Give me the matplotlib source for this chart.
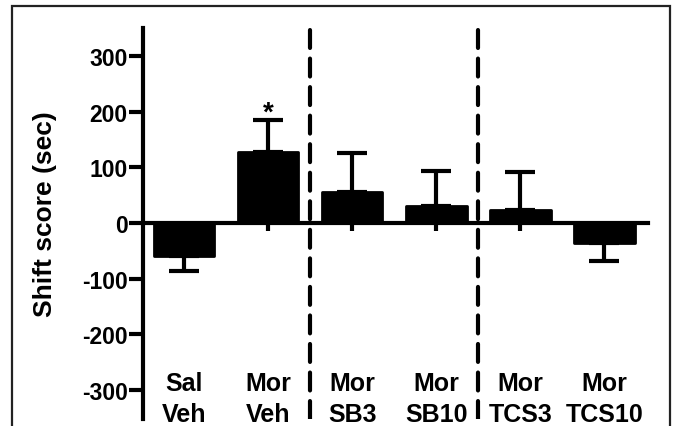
import numpy as np
from matplotlib import pyplot as plt
from matplotlib.patches import Rectangle

# group labels and values
line1 = ["Sal", "Mor", "Mor", "Mor", "Mor", "Mor"]
line2 = ["Veh", "Veh", "SB3", "SB10", "TCS3", "TCS10"]
means = [-59, 128, 56, 30, 24, -36]
sem = [28, 56, 70, 64, 68, 32]
yticks = [-300, -200, -100, 0, 100, 200, 300]
dividers = [1.5, 3.5]

plt.rcParams['font.family'] = ['Liberation Sans', 'DejaVu Sans']
plt.rcParams['font.weight'] = 'bold'

fig = plt.figure(figsize=(6.73, 4.27), dpi=100)
ax = fig.add_axes([143 / 673, 1 - 420 / 427, (648 - 143) / 673, (420 - 29) / 427])

x = np.arange(len(means))
ax.bar(x, means, width=0.72, color='black', edgecolor='black', linewidth=2,
       joinstyle='round', zorder=2)

# one-sided error bars (away from zero)
lower = [s if m < 0 else 0 for m, s in zip(means, sem)]
upper = [s if m >= 0 else 0 for m, s in zip(means, sem)]
ax.errorbar(x, means, yerr=[lower, upper], fmt='none', ecolor='black',
            elinewidth=3, capsize=11, capthick=3, zorder=3)

# significance star
ax.text(x[1], means[1] + sem[1] + 14, '*', ha='center', va='center',
        fontsize=20, fontweight='bold')

for d in dividers:
    ax.axvline(d, color='black', linewidth=3, dashes=(4.3, 2.55),
               dash_capstyle='round', zorder=1)

ax.set_xlim(-0.49, 5.52)
ax.set_ylim(-352, 350)
ax.set_yticks(yticks)
ax.set_yticklabels([str(t) for t in yticks], fontsize=16.5, fontweight='bold')
ax.set_xticks(x)
ax.set_xticklabels([])
ax.tick_params(axis='y', length=10, width=3, pad=1)
ax.tick_params(axis='x', length=6, width=3, direction='out')

ax.spines['top'].set_visible(False)
ax.spines['right'].set_visible(False)
ax.spines['bottom'].set_position(('data', 0))
ax.spines['bottom'].set_linewidth(3)
ax.spines['left'].set_linewidth(3)
ax.spines['bottom'].set_zorder(1)

for xi, a, b in zip(x, line1, line2):
    ax.text(xi, -300, a, ha='center', va='baseline', fontsize=18,
            fontweight='bold', clip_on=False)
    ax.text(xi, -356, b, ha='center', va='baseline', fontsize=18,
            fontweight='bold', clip_on=False)

ax.set_ylabel('Shift score (sec)', fontsize=19, fontweight='bold')
ax.yaxis.set_label_coords(-0.17, 0.527)

fig.patches.append(Rectangle((12 / 673, -0.05), 658 / 673, 1.05 - 7 / 427,
                             transform=fig.transFigure, fill=False,
                             edgecolor='#222222', linewidth=1.6))

fig.savefig('out.png', dpi=100)
